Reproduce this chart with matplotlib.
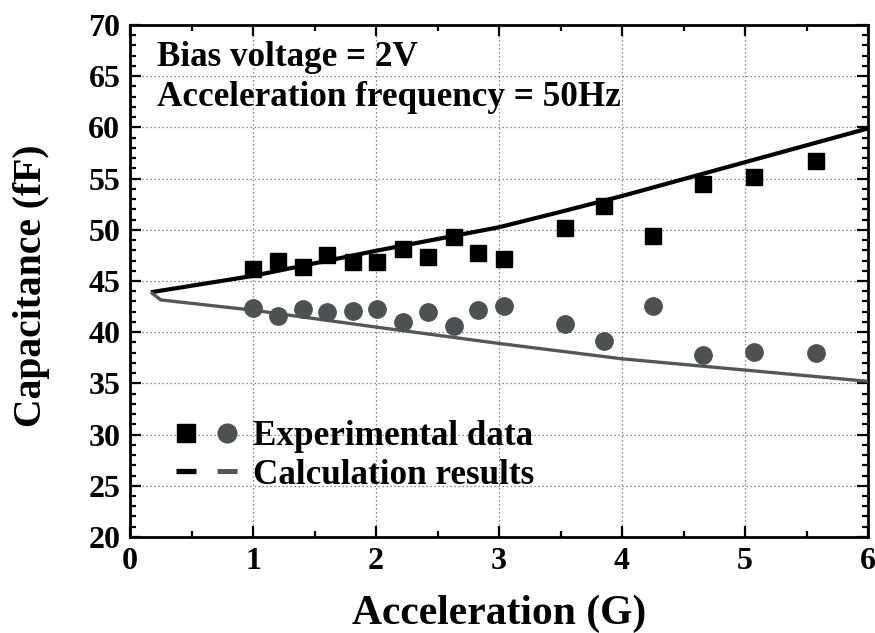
import matplotlib
matplotlib.use("Agg")
import matplotlib.pyplot as plt
from matplotlib.legend_handler import HandlerTuple
from matplotlib.lines import Line2D
from matplotlib.ticker import MultipleLocator

# Measured capacitance versus acceleration
accel = [1.00, 1.20, 1.41, 1.60, 1.81, 2.01, 2.22, 2.42, 2.63, 2.83, 3.04,
         3.54, 3.85, 4.25, 4.66, 5.07, 5.58]
cap_up = [46.15, 46.97, 46.41, 47.58, 46.87, 46.90, 48.14, 47.36, 49.34, 47.72, 47.16,
          50.17, 52.35, 49.41, 54.50, 55.12, 56.72]
cap_down = [42.34, 41.58, 42.27, 42.00, 42.10, 42.24, 41.03, 42.00, 40.64, 42.17, 42.60,
            40.77, 39.14, 42.56, 37.77, 38.03, 37.93]

# Calculated capacitance curves
calc_up_x = [0.17, 1.0, 2.0, 3.0, 3.5, 4.0, 5.0, 6.0]
calc_up_y = [43.9, 45.5, 47.95, 50.25, 51.75, 53.3, 56.6, 59.9]
calc_down_x = [0.17, 0.25, 1.0, 2.0, 3.0, 4.0, 5.0, 6.0]
calc_down_y = [43.9, 43.15, 42.15, 40.5, 38.9, 37.4, 36.3, 35.2]

x_ticks = [0, 1, 2, 3, 4, 5, 6]
y_ticks = [20, 25, 30, 35, 40, 45, 50, 55, 60, 65, 70]

plt.rcParams['font.family'] = ['Liberation Serif', 'DejaVu Serif']
plt.rcParams['font.weight'] = 'bold'

BLACK = '#000000'
GRAY = '#4d5152'
LINE_GRAY = '#545657'

fig = plt.figure(figsize=(8.75, 6.33), dpi=100)
ax = fig.add_axes([0.1486, 0.1517, 0.8434, 0.8088])

line_up, = ax.plot(calc_up_x, calc_up_y, color=BLACK, lw=3.0, solid_capstyle='butt',
                   solid_joinstyle='round', zorder=3)
line_dn, = ax.plot(calc_down_x, calc_down_y, color=LINE_GRAY, lw=2.4, solid_capstyle='butt',
                   solid_joinstyle='round', zorder=3)
sq, = ax.plot(accel, cap_up, ls='none', marker='s', ms=11.5, color=BLACK, zorder=4)
ci, = ax.plot(accel, cap_down, ls='none', marker='o', ms=12.5, color=GRAY, zorder=4)

ax.set_xlim(0, 6)
ax.set_ylim(20, 70)
ax.set_xticks(x_ticks)
ax.set_yticks(y_ticks)
ax.xaxis.set_minor_locator(MultipleLocator(0.5))
ax.yaxis.set_minor_locator(MultipleLocator(1))
ax.tick_params(which='both', direction='in', top=True, right=True, width=1.6,
               labelsize=23, pad=7)
ax.tick_params(which='major', length=8)
ax.tick_params(which='minor', length=4.5)
for lab in ax.get_xticklabels() + ax.get_yticklabels():
    lab.set_fontweight('bold')
for s in ax.spines.values():
    s.set_linewidth(2.0)

ax.grid(True, which='major', color='#666666', lw=0.9, linestyle=(0, (1, 2.2)))
ax.set_axisbelow(True)

ax.set_xlabel('Acceleration (G)', fontsize=30, fontweight='bold', va='center')
ax.xaxis.set_label_coords(0.5, -0.150)
ax.set_ylabel('Capacitance (fF)', fontsize=28.5, fontweight='bold', va='center')
ax.yaxis.set_label_coords(-0.133, 0.49)

ax.text(0.22, 66.0, 'Bias voltage = 2V', fontsize=25.3, fontweight='bold', va='baseline')
ax.text(0.22, 62.06, 'Acceleration frequency = 50Hz', fontsize=25.3, fontweight='bold',
        va='baseline')

# Legend keys drawn a little heavier than the plotted curves
key_sq = Line2D([], [], ls='none', marker='s', ms=13, color=BLACK)
key_ci = Line2D([], [], ls='none', marker='o', ms=13.5, color=GRAY)
key_up = Line2D([], [], color=BLACK, lw=3.8, solid_capstyle='butt')
key_dn = Line2D([], [], color=LINE_GRAY, lw=3.6, solid_capstyle='butt')

leg = ax.legend([(key_sq, key_ci), (key_up, key_dn)],
                ['Experimental data', 'Calculation results'],
                handler_map={tuple: HandlerTuple(ndivide=None, pad=0.62)},
                loc='center left', bbox_to_anchor=(0.062, 0.158),
                frameon=False, handlelength=1.75,
                handletextpad=0.45, labelspacing=0.15, borderpad=0,
                borderaxespad=0, numpoints=1, prop={'weight': 'bold', 'size': 25.3})

fig.savefig('out.png', dpi=100)
